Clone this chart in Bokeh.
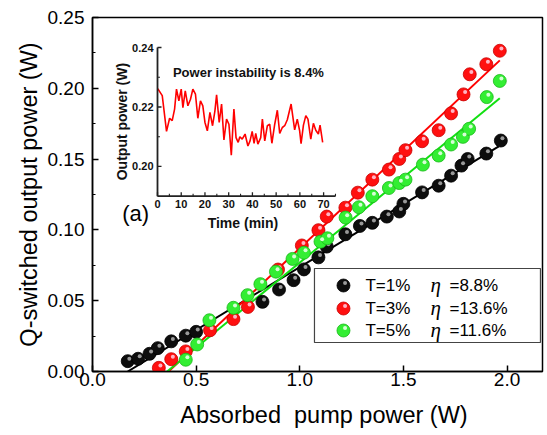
import numpy as np
from bokeh.plotting import figure
from bokeh.models import Range1d, Label, FixedTicker, PrintfTickFormatter
from bokeh.core.properties import value
from bokeh.embed import file_html
from bokeh.resources import INLINE

# ---------------- data ----------------
black_x = [0.17, 0.22, 0.275, 0.315, 0.38, 0.45, 0.50, 0.82, 0.90, 0.97, 1.02, 1.09, 1.13,
           1.22, 1.29, 1.35, 1.42, 1.48, 1.50, 1.59, 1.67, 1.73, 1.78, 1.81, 1.90, 1.97]
black_y = [0.0073, 0.0090, 0.0125, 0.0165, 0.0213, 0.0253, 0.0280, 0.0492, 0.0579, 0.0645,
           0.0721, 0.0806, 0.0882, 0.0969, 0.1028, 0.1050, 0.1094, 0.1130, 0.1184, 0.1265,
           0.1312, 0.1383, 0.1454, 0.1501, 0.1539, 0.1631]

red_x = [0.32, 0.38, 0.45, 0.567, 0.68, 0.75, 0.895, 1.01, 1.09, 1.13, 1.22, 1.28, 1.35,
         1.43, 1.48, 1.51, 1.59, 1.67, 1.73, 1.79, 1.82, 1.90, 1.965]
red_y = [0.0026, 0.0087, 0.0142, 0.0291, 0.0370, 0.0456, 0.0720, 0.0890, 0.0998, 0.1094,
         0.1157, 0.1263, 0.1355, 0.1426, 0.1501, 0.1563, 0.1626, 0.1704, 0.1823, 0.1957,
         0.2099, 0.2170, 0.2265]

green_x = [0.45, 0.505, 0.564, 0.68, 0.748, 0.81, 0.885, 0.965, 1.02, 1.10, 1.133, 1.221,
           1.285, 1.35, 1.43, 1.48, 1.51, 1.594, 1.67, 1.73, 1.787, 1.817, 1.902, 1.965]
green_y = [0.0083, 0.0191, 0.0362, 0.0450, 0.0539, 0.0617, 0.0705, 0.0795, 0.0839, 0.0917,
           0.0941, 0.1087, 0.1160, 0.1238, 0.1296, 0.1331, 0.1355, 0.1461, 0.1525, 0.1603,
           0.1657, 0.1714, 0.1938, 0.2052]

# linear fits: slope (efficiency), threshold, end of fitted line
fit_slopes = [0.0888, 0.1375, 0.1202]
fit_thresholds = [0.17, 0.367, 0.36]
fit_ends = [1.96, 1.965, 1.965]

series_labels = ["T=1%", "T=3%", "T=5%"]
eta_labels = ["8.8%", "13.6%", "11.6%"]

x_ticks = [0.0, 0.5, 1.0, 1.5, 2.0]
y_ticks = [0.00, 0.05, 0.10, 0.15, 0.20, 0.25]
y_minor = [0.025, 0.075, 0.125, 0.175, 0.225]

inset_time = [0.1, 2.0, 3.8, 5.1, 6.2, 7.2, 8.0, 9.0, 10.0, 10.7, 11.7, 12.8, 13.9, 14.9,
              16.0, 17.0, 18.1, 19.1, 20.0, 21.0, 22.1, 23.2, 24.2, 24.9, 26.0, 27.0, 28.0,
              29.1, 30.1, 31.1, 32.2, 33.1, 34.0, 34.7, 35.7, 36.9, 38.1, 39.0, 39.9, 40.7,
              41.4, 42.3, 43.5, 44.2, 45.2, 46.3, 47.3, 48.2, 49.4, 50.5, 51.5, 52.6, 53.6,
              54.7, 56.3, 57.8, 58.9, 59.9, 60.5, 61.5, 62.5, 63.4, 64.6, 65.7, 66.7, 67.8,
              68.5, 69.6]
inset_power = [0.2262, 0.2238, 0.2118, 0.2162, 0.2154, 0.2193, 0.2260, 0.2221, 0.2260, 0.2198,
               0.2254, 0.2204, 0.2226, 0.2260, 0.2243, 0.2162, 0.2221, 0.2204, 0.2148, 0.2120,
               0.2182, 0.2137, 0.2187, 0.2241, 0.2148, 0.2210, 0.2089, 0.2159, 0.2142, 0.2038,
               0.2193, 0.2097, 0.2081, 0.2100, 0.2092, 0.2109, 0.2069, 0.2086, 0.2118, 0.2078,
               0.2111, 0.2075, 0.2097, 0.2159, 0.2086, 0.2137, 0.2142, 0.2078, 0.2142, 0.2189,
               0.2111, 0.2131, 0.2137, 0.2157, 0.2210, 0.2123, 0.2159, 0.2120, 0.2077, 0.2139,
               0.2171, 0.2159, 0.2092, 0.2145, 0.2122, 0.2109, 0.2139, 0.2081]
inset_x_ticks = [0, 10, 20, 30, 40, 50, 60, 70]
inset_x_minor = [5, 15, 25, 35, 45, 55, 65, 75]
inset_y_ticks = [0.20, 0.22, 0.24]
inset_y_minor = [0.21, 0.23]
inset_x_range = (0, 75)
inset_y_range = (0.19, 0.24)

FONT = "Liberation Sans"

# ---------------- main figure ----------------
p = figure(width=547, height=435, output_backend="svg", toolbar_location=None,
           x_range=Range1d(0, 2.171), y_range=Range1d(0, 0.25),
           min_border_left=92, min_border_right=5, min_border_top=17, min_border_bottom=64)
p.xgrid.visible = False
p.ygrid.visible = False
p.outline_line_color = "black"
p.outline_line_width = 1.5
p.background_fill_color = "white"
p.border_fill_color = "white"

for ax in (p.xaxis[0], p.yaxis[0]):
    ax.axis_line_width = 1.5
    ax.axis_line_color = "black"
    ax.major_tick_in = 6
    ax.major_tick_out = 0
    ax.major_tick_line_width = 1.5
    ax.minor_tick_in = 3
    ax.minor_tick_out = 0
    ax.minor_tick_line_width = 1.2
    ax.major_label_text_font = FONT
    ax.major_label_text_font_size = "19px"
    ax.major_label_text_color = "black"
    ax.axis_label_text_font = FONT
    ax.axis_label_text_font_size = "23.5px"
    ax.axis_label_text_font_style = "normal"
    ax.axis_label_text_color = "black"

p.xaxis[0].ticker = FixedTicker(ticks=x_ticks)
p.xaxis[0].formatter = PrintfTickFormatter(format="%.1f")
p.xaxis[0].major_label_standoff = 1
p.xaxis[0].axis_label = "\u00a0\u00a0Absorbed\u00a0 pump power (W)"
p.xaxis[0].axis_label_standoff = 13
p.yaxis[0].ticker = FixedTicker(ticks=y_ticks, minor_ticks=y_minor)
p.yaxis[0].formatter = PrintfTickFormatter(format="%.2f")
p.yaxis[0].major_label_standoff = 8
p.yaxis[0].axis_label = "Q-switched output power (W)"
p.yaxis[0].axis_label_standoff = 3

# fit lines
line_colors = ["#000000", "#ff0000", "#11e011"]
for s, t, e, c in zip(fit_slopes, fit_thresholds, fit_ends, line_colors):
    xs = [t, e]
    ys = [s * (xx - t) for xx in xs]
    p.line(xs, ys, line_color=c, line_width=2)

# glossy balls
ball_fill = ["#0d0d0d", "#ff1010", "#33ee33"]
ball_edge = ["#000000", "#c80000", "#18b818"]
ball_hl = ["#a8a8a8", "#ffc8d8", "#e8ffe8"]
dx_hl = 1.6 / 207.3
dy_hl = 2.4 / 1416.0
for xs, ys, f, ed, hl in zip([black_x, red_x, green_x], [black_y, red_y, green_y],
                             ball_fill, ball_edge, ball_hl):
    p.scatter(xs, ys, marker="circle", size=13, fill_color=f, line_color=ed, line_width=0.8)
    p.scatter([x + dx_hl for x in xs], [y + dy_hl for y in ys], marker="circle", size=4,
              fill_color=hl, line_color=None, fill_alpha=0.9)

# ---------------- legend box (own sub-coordinates, pixel-like units) ----------------
lg = p.subplot(x_source=Range1d(0, 226), y_source=Range1d(0, 74),
               x_target=Range1d(1.0709, 2.1611), y_target=Range1d(0.02048, 0.07274))
lg.quad(left=[0], right=[226], bottom=[0], top=[74], fill_color="white",
        line_color="#444444", line_width=1.2)
rows = [57, 34, 12]
lg.scatter([29] * 3, rows, marker="circle", size=13, fill_color=ball_fill,
           line_color=ball_edge, line_width=0.8)
lg.scatter([29 + 1.6] * 3, [r + 2.4 for r in rows], marker="circle", size=4,
           fill_color=ball_hl, line_color=None, fill_alpha=0.9)
lg.text([51] * 3, rows, text=series_labels, text_align="left", text_baseline="middle",
        text_font=value(FONT), text_font_size="17px", text_color="black")
lg.text([116] * 3, [r + 1 for r in rows], text=["\u03b7"] * 3, text_align="left",
        text_baseline="middle", text_font=value("Liberation Serif"), text_font_style="italic",
        text_font_size="21px", text_color="black")
lg.text([135] * 3, rows, text=["=" + e for e in eta_labels], text_align="left",
        text_baseline="middle", text_font=value(FONT), text_font_size="17px",
        text_color="black")

p.add_layout(Label(x=0.1433, y=0.1119, text="(a)", text_font=FONT, text_font_size="22px",
                   text_align="left", text_baseline="middle", text_color="black"))

# ---------------- inset (sub-coordinates) ----------------
ins = p.subplot(x_source=Range1d(*inset_x_range), y_source=Range1d(*inset_y_range),
                x_target=Range1d(0.3136, 1.1722), y_target=Range1d(0.1238, 0.2288))
ax_col = "#222222"
ins.line(inset_time, inset_power, line_color="#ff0000", line_width=1.6)
ins.segment(x0=[inset_x_range[0], inset_x_range[0]], y0=[inset_y_range[0], inset_y_range[0]],
            x1=[inset_x_range[0], inset_x_range[1]], y1=[inset_y_range[1], inset_y_range[0]],
            line_color=ax_col, line_width=1.8)
ins.ray(x=inset_x_ticks, y=[inset_y_range[0]] * len(inset_x_ticks), length=4,
        length_units="screen", angle=np.pi / 2, line_color=ax_col, line_width=1.3)
ins.ray(x=inset_x_minor, y=[inset_y_range[0]] * len(inset_x_minor), length=2.5,
        length_units="screen", angle=np.pi / 2, line_color=ax_col, line_width=1.1)
ins.ray(x=[inset_x_range[0]] * len(inset_y_ticks), y=inset_y_ticks, length=4,
        length_units="screen", angle=0, line_color=ax_col, line_width=1.3)
ins.ray(x=[inset_x_range[0]] * len(inset_y_minor), y=inset_y_minor, length=2.5,
        length_units="screen", angle=0, line_color=ax_col, line_width=1.1)
ins.text(x=inset_x_ticks, y=[inset_y_range[0]] * len(inset_x_ticks),
         text=[str(t) for t in inset_x_ticks], text_align="center", text_baseline="middle",
         y_offset=8, text_font=value(FONT), text_font_style="bold", text_font_size="11px",
         text_color="#111111")
ins.text(x=[inset_x_range[0]] * len(inset_y_ticks), y=inset_y_ticks,
         text=["%.2f" % t for t in inset_y_ticks], text_align="right", text_baseline="middle",
         x_offset=-4, text_font=value(FONT), text_font_style="bold", text_font_size="11px",
         text_color="#111111")
ins.text(x=[36.0], y=[inset_y_range[0]], text=["Time (min)"], text_align="center",
         text_baseline="middle", y_offset=27, text_font=value(FONT), text_font_style="bold",
         text_font_size="14px", text_color="#111111")
ins.text(x=[-15.0], y=[0.2151], text=["Output power (W)"], angle=np.pi / 2, text_align="center",
         text_baseline="middle", text_font=value(FONT), text_font_style="bold",
         text_font_size="14px", text_color="#111111")
ins.text(x=[6.5], y=[0.2317], text=["Power instability is 8.4%"], text_align="left",
         text_baseline="middle", text_font=value(FONT), text_font_style="bold",
         text_font_size="13px", text_color="#111111")

open("out.html", "w").write(file_html(p, INLINE))
